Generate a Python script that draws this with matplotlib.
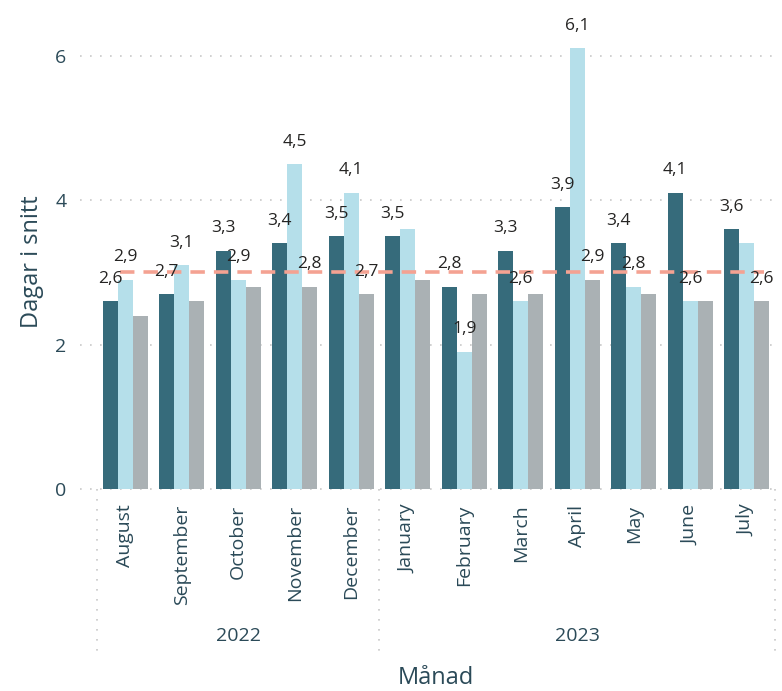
import numpy as np
import matplotlib.pyplot as plt

months = ['August', 'September', 'October', 'November', 'December',
          'January', 'February', 'March', 'April', 'May', 'June', 'July']
years = ['2022', '2023']
months_per_year = [5, 7]

# three series per month
dark = [2.6, 2.7, 3.3, 3.4, 3.5, 3.5, 2.8, 3.3, 3.9, 3.4, 4.1, 3.6]
light = [2.9, 3.1, 2.9, 4.5, 4.1, 3.6, 1.9, 2.6, 6.1, 2.8, 2.6, 3.4]
gray = [2.4, 2.6, 2.8, 2.8, 2.7, 2.9, 2.7, 2.7, 2.9, 2.7, 2.6, 2.6]

# which data labels are visible (power bi hides overlapping ones)
show_dark = [1, 1, 1, 1, 1, 1, 1, 1, 1, 1, 1, 1]
show_light = [1, 1, 1, 1, 1, 0, 1, 1, 1, 1, 1, 0]
show_gray = [0, 0, 0, 1, 1, 0, 0, 0, 1, 0, 0, 1]

target = 3.0

plt.rcParams['font.family'] = ['Open Sans', 'DejaVu Sans']

c_dark = '#366b7b'
c_light = '#b5dfea'
c_gray = '#aab1b4'
c_text = '#2b4a58'

fig = plt.figure(figsize=(7.82, 6.91), dpi=100)
ax = fig.add_axes([0.124, 0.292, 0.867, 0.659])

x = np.arange(len(months))
w = 0.265

series = [(dark, c_dark, show_dark, -w), (light, c_light, show_light, 0), (gray, c_gray, show_gray, w)]
for vals, col, show, off in series:
    ax.bar(x + off, vals, width=w, color=col, zorder=2)
    for xi, v, s in zip(x, vals, show):
        if s:
            ax.text(xi + off, v + 0.2, f'{v:.1f}'.replace('.', ','), ha='center', va='bottom',
                    fontsize=12.5, color='#252423', zorder=4)

# target line
ax.hlines(target, x[0] - 0.1, x[-1] + 0.3, colors='#f4a292', linestyles=(0, (4, 2.5)),
          linewidth=2.6, zorder=3)

ax.set_xlim(-0.5, 11.5)
ax.set_ylim(0, 6.3)

# gridlines, a bit wider than the axes on the left
for yv in [0, 2, 4, 6]:
    ax.axhline(yv, xmin=-0.025, xmax=1, color='#c8c8c8', linestyle=(0, (1, 5)),
               linewidth=1.2, clip_on=False, zorder=1)

for sp in ax.spines.values():
    sp.set_visible(False)

ax.set_yticks([0, 2, 4, 6])
ax.tick_params(axis='y', length=0, pad=22, labelsize=14, labelcolor=c_text)
ax.set_ylabel('Dagar i snitt', fontsize=17, color=c_text, labelpad=8)

ax.set_xticks(x)
ax.set_xticklabels(months, rotation=90, fontsize=14, color=c_text)
ax.tick_params(axis='x', length=0, pad=11)

# year level of the hierarchy axis
trans = ax.get_xaxis_transform()
bounds = np.concatenate([[0], np.cumsum(months_per_year)]) - 0.5
for i, yr in enumerate(years):
    mid = (bounds[i] + bounds[i + 1]) / 2
    ax.text(mid, -0.323, yr, transform=trans, ha='center', va='center', fontsize=14, color=c_text)
for b in bounds:
    ax.plot([b, b], [0, -0.365], transform=trans, color='#c8c8c8', linestyle=(0, (1, 5)),
            linewidth=1.2, clip_on=False)

ax.text(0.5, -0.415, 'Månad', transform=ax.transAxes, ha='center', va='center', fontsize=17, color=c_text)

fig.savefig('out.png', dpi=100)
